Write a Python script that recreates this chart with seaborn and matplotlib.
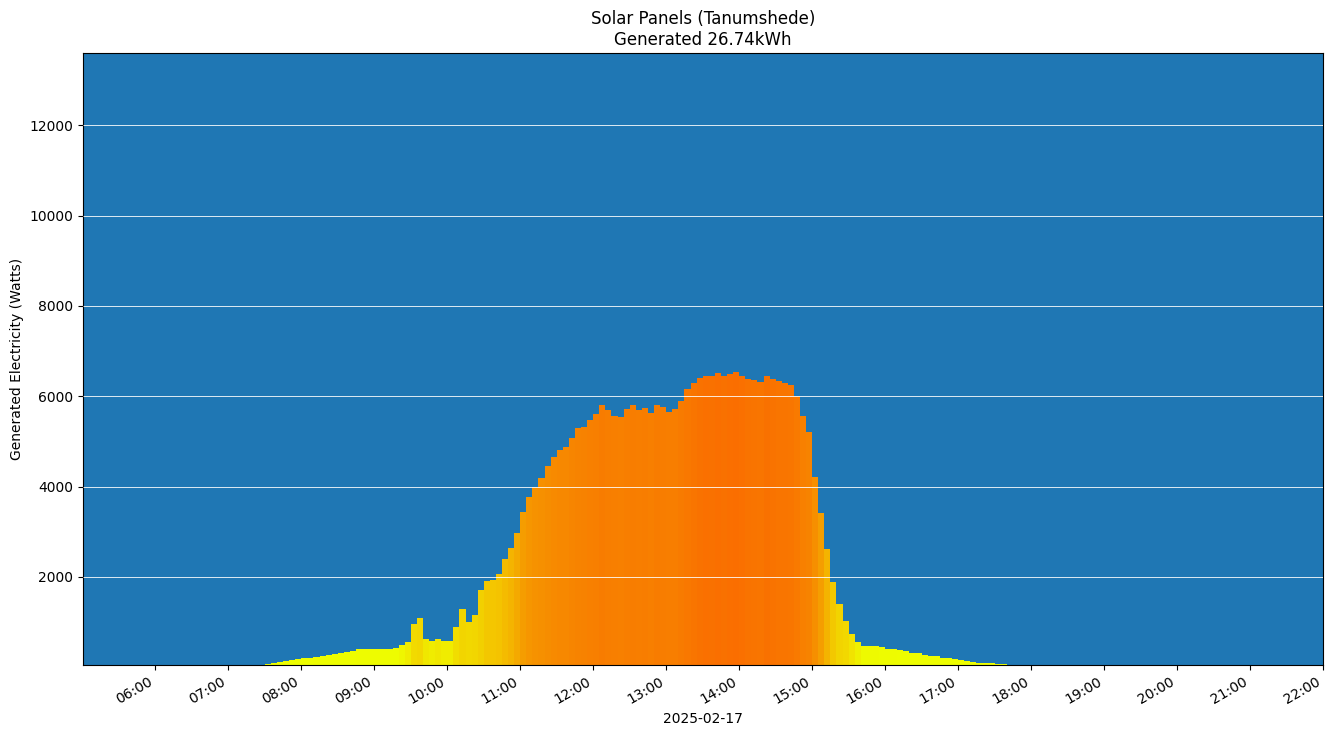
import numpy as np
import pandas as pd
import matplotlib
matplotlib.use("Agg")
import matplotlib.pyplot as plt
import matplotlib.dates as mdates
from matplotlib.colors import LinearSegmentedColormap, Normalize
import seaborn as sns

# ---------------- data ----------------
DATE = "2025-02-17"
START = "07:30"
INTERVAL_MIN = 5
TITLE = "Solar Panels (Tanumshede)\nGenerated 26.74kWh"
Y_LABEL = "Generated Electricity (Watts)"

power_w = [
    80, 95, 120, 135, 155, 175,            # 07:30-07:55
    195, 215, 235, 255, 275, 295,          # 08:00-08:25
    310, 330, 355, 400, 395, 395,          # 08:30-08:55
    395, 400, 410, 430, 500, 570,          # 09:00-09:25
    960, 1080, 620, 580, 635, 575,         # 09:30-09:55
    575, 890, 1280, 1010, 1160, 1700,      # 10:00-10:25
    1910, 1940, 2060, 2390, 2630, 2980,    # 10:30-10:55
    3430, 3770, 3980, 4190, 4460, 4660,    # 11:00-11:25
    4820, 4870, 5070, 5290, 5330, 5470,    # 11:30-11:55
    5600, 5810, 5700, 5570, 5530, 5710,    # 12:00-12:25
    5800, 5690, 5730, 5620, 5810, 5760,    # 12:30-12:55
    5660, 5710, 5890, 6160, 6300, 6400,    # 13:00-13:25
    6450, 6440, 6510, 6440, 6500, 6540,    # 13:30-13:55
    6450, 6390, 6350, 6310, 6440, 6380,    # 14:00-14:25
    6340, 6300, 6240, 6010, 5560, 5210,    # 14:30-14:55
    4210, 3410, 2610, 1890, 1390, 1030,    # 15:00-15:25
    730, 550, 480, 475, 465, 445,          # 15:30-15:55
    415, 395, 375, 355, 325, 305,          # 16:00-16:25
    280, 260, 240, 215, 195, 175,          # 16:30-16:55
    155, 135, 120, 100, 95, 85,            # 17:00-17:25
    75, 70,                                # 17:30-17:35
]

hour_ticks = ["06:00", "07:00", "08:00", "09:00", "10:00", "11:00", "12:00",
              "13:00", "14:00", "15:00", "16:00", "17:00", "18:00", "19:00",
              "20:00", "21:00", "22:00"]
y_ticks = [2000, 4000, 6000, 8000, 10000, 12000]

# colour stops (value in W -> colour)
color_stops = [(0, "#eeff00"), (450, "#eefc00"), (600, "#f0e800"),
               (1000, "#f2d800"), (1700, "#f2d000"), (2000, "#f4c400"),
               (2500, "#f4b800"), (3000, "#f4a800"), (3500, "#f59c00"),
               (4000, "#f69200"), (5000, "#f78600"), (5700, "#f87e00"),
               (6300, "#f97600"), (6600, "#fa6c00")]

# ---------------- build ----------------
times = pd.date_range(f"{DATE} {START}", periods=len(power_w),
                      freq=f"{INTERVAL_MIN}min")
x_left = mdates.date2num(times.to_pydatetime())
width = INTERVAL_MIN / 1440.0
df = pd.DataFrame({"t": x_left + width / 2, "watts": power_w})

vmax = color_stops[-1][0]
cmap = LinearSegmentedColormap.from_list(
    "solar", [(v / vmax, c) for v, c in color_stops])
norm = Normalize(vmin=0, vmax=vmax, clip=True)

fig = plt.figure(figsize=(13.33, 7.36), dpi=100)
ax = fig.add_axes([83 / 1333, 1 - 665 / 736, 1240 / 1333, (665 - 53) / 736])

sns.histplot(data=df, x="t", weights="watts", bins=len(power_w),
             binrange=(float(x_left[0]), float(x_left[-1] + width)), ax=ax,
             stat="count", element="bars", fill=True, alpha=1,
             linewidth=0, edgecolor="none")

for patch in ax.patches:
    patch.set_facecolor(cmap(norm(patch.get_height())))
    patch.set_alpha(1)
    patch.set_linewidth(0)

ax.set_facecolor("#1f77b4")

tick_pos = [mdates.date2num(pd.Timestamp(f"{DATE} {h}").to_pydatetime())
            for h in hour_ticks]
ax.set_xticks(tick_pos)
ax.set_xticklabels(hour_ticks, rotation=30, ha="right")
x_start = mdates.date2num(pd.Timestamp(f"{DATE} 05:00:30").to_pydatetime())
ax.set_xlim(x_start, tick_pos[-1])

ax.set_ylim(50, 13600)
ax.set_yticks(y_ticks)

ax.grid(axis="y", color="white", linewidth=0.7, alpha=0.85)
ax.grid(axis="x", visible=False)
ax.set_axisbelow(False)

ax.set_title(TITLE, fontsize=12)
ax.set_xlabel(DATE)
ax.set_ylabel(Y_LABEL)

fig.savefig("out.png", dpi=100)
